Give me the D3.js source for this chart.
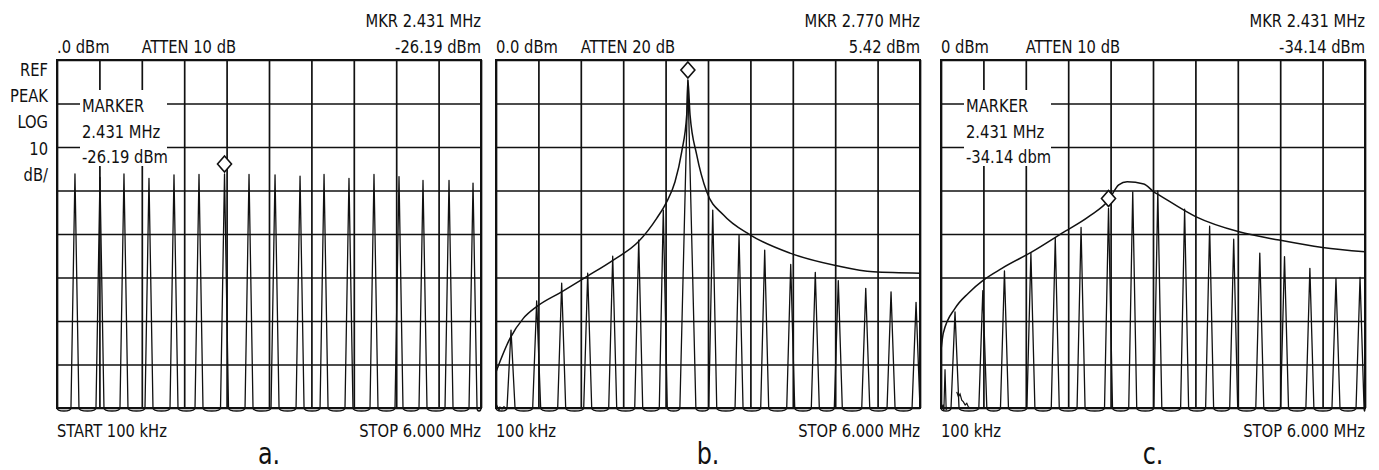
<!DOCTYPE html>
<html lang="en">
<head>
<meta charset="UTF-8">
<title>Spectrum analyzer sweeps a, b, c</title>
<script src="https://cdn.jsdelivr.net/npm/d3@7"></script>
<style>
  body { margin: 0; background: #fff; }
  svg text {
    font-family: "Liberation Sans Narrow", "DejaVu Sans Condensed", "Roboto Condensed", sans-serif;
    font-stretch: condensed;
    fill: #111;
  }
</style>
</head>
<body>
<svg id="chart" width="1379" height="470"></svg>
<script>
// sweep span (MHz) and screen graticule
const spanMHz = [0.1, 6.0];
const gridCols = 10, gridRows = 8, dbPerDiv = 10;
const sideLabels = ["REF", "PEAK", "LOG", "10", "dB/"];

// a. comb lines (MHz, dBm)
const freqA  = [0.350, 0.698, 1.032, 1.380, 1.728, 2.076, 2.431, 2.772, 3.134, 3.482, 3.816, 4.163, 4.511, 4.859, 5.193, 5.555, 5.889];
const levelA = [-26.2, -27.0, -26.2, -27.2, -26.4, -26.3, -26.19, -26.3, -26.4, -26.7, -26.3, -27.2, -26.3, -26.8, -27.7, -27.7, -28.3];

// b. comb lines, ref shown 10 dB higher (ATTEN 20 dB)
const freqB  = [0.309, 0.666, 1.014, 1.376, 1.724, 2.086, 2.428, 2.770, 3.116, 3.482, 3.839, 4.201, 4.543, 4.863, 5.245, 5.597, 5.945];
const levelB = [-52.1, -45.4, -41.3, -39.0, -35.1, -31.4, -24.5, 5.42, -24.5, -30.2, -33.7, -37.0, -38.8, -40.7, -42.5, -43.3, -45.7];
const envFreqB  = [0.10, 0.295, 0.48, 0.666, 1.014, 1.362, 1.732, 2.08, 2.336, 2.475, 2.591, 2.684, 2.754, 2.77, 2.80, 2.893, 3.032, 3.263, 3.635, 4.191, 4.841, 5.35, 6.0];
const envLevelB = [-61.7, -54.0, -49.4, -46.7, -43.3, -39.8, -36.0, -31.8, -26.4, -22.6, -18.0, -11.1, -2.6, 5.4, -2.6, -11.8, -20.3, -25.6, -30.2, -34.4, -37.3, -38.7, -39.0];
const noiseB = [[0.10, -70.0], [0.114, -69.5], [0.142, -70.5], [0.156, -69.8], [0.184, -70.2], [0.211, -69.7], [0.239, -70.2], [0.267, -70.0]];

// c. comb lines
const freqC  = [0.295, 0.682, 0.983, 1.351, 1.690, 2.049, 2.431, 2.768, 3.117, 3.490, 3.838, 4.173, 4.536, 4.880, 5.233, 5.596, 5.931];
const levelC = [-57.9, -53.0, -48.5, -44.4, -41.0, -38.5, -34.14, -30.3, -30.1, -34.3, -38.2, -41.2, -44.4, -45.2, -47.9, -50.2, -50.0];
const envFreqC  = [0.10, 0.132, 0.295, 0.481, 0.69, 0.947, 1.365, 1.784, 2.155, 2.434, 2.573, 2.69, 2.922, 3.061, 3.131, 3.643, 4.247, 4.805, 5.41, 6.0];
const envLevelC = [-66.7, -62.8, -57.1, -53.6, -50.6, -47.9, -44.1, -39.8, -36.0, -32.2, -28.7, -28.0, -28.5, -30.3, -31.0, -36.0, -39.5, -41.4, -43.1, -44.1];
const noiseC1 = [[0.10, -80.0], [0.125, -79.4], [0.14, -80.6], [0.156, -71.1], [0.172, -80.4], [0.19, -79.8]];
const noiseC2 = [[0.319, -76.3], [0.342, -77.4], [0.365, -76.8], [0.389, -78.2], [0.412, -78.6], [0.436, -79.3], [0.459, -78.9], [0.482, -79.8], [0.529, -80.1]];

const panels = [
  { label: "a.", left: 57, ref: 0, freqs: freqA, levels: levelA, marker: 6,
    mkr: ["MKR 2.431 MHz", "-26.19 dBm"], refText: ".0 dBm", atten: "ATTEN 10 dB",
    start: "START 100 kHz", box: ["MARKER", "2.431 MHz", "-26.19 dBm"], noise: [] },
  { label: "b.", left: 496, ref: 10, freqs: freqB, levels: levelB, marker: 7,
    mkr: ["MKR 2.770 MHz", "5.42 dBm"], refText: "0.0 dBm", atten: "ATTEN 20 dB",
    start: "100 kHz", env: [envFreqB, envLevelB], noise: [noiseB] },
  { label: "c.", left: 941, ref: 0, freqs: freqC, levels: levelC, marker: 6,
    mkr: ["MKR 2.431 MHz", "-34.14 dBm"], refText: "0 dBm", atten: "ATTEN 10 dB",
    start: "100 kHz", box: ["MARKER", "2.431 MHz", "-34.14 dbm"], env: [envFreqC, envLevelC], noise: [noiseC1, noiseC2] }
];

const W = 424, plotTop = 60, H = 348;
const squeeze = 0.885;   // the instrument font is narrower than what we have
const svg = d3.select("#chart");

// text helper: condensed by a horizontal scale around its anchor point
function label(parent, s, tx, ty, anchor, size) {
  return parent.append("text")
    .attr("transform", `translate(${tx},${ty}) scale(${squeeze},1)`)
    .attr("text-anchor", anchor)
    .style("font-size", size || "18.5px")
    .text(s);
}

sideLabels.forEach((s, i) => label(svg, s, 48, 76 + i * 26.2, "end"));

function tracePath(x, y, p) {
  const path = d3.path();
  const floorY = y(p.ref - gridRows * dbPerDiv);
  const [x0, x1] = x.range();
  const bowl = (from, to) => {
    if (to - from < 0.5) { path.lineTo(to, floorY); return; }
    path.bezierCurveTo(from, floorY + 4, to, floorY + 4, to, floorY);
  };
  let prev = x0;
  path.moveTo(x0, floorY);
  p.freqs.forEach((f, i) => {
    const cx = x(f), hw = p.levels[i] > p.ref - 15 ? 8 : 4;
    const xl = Math.max(x0, cx - hw), xr = Math.min(x1, cx + hw);
    if (xl > prev) bowl(prev, xl);
    path.lineTo(cx, y(p.levels[i]));
    path.lineTo(xr, floorY);
    prev = xr;
  });
  if (x1 > prev) bowl(prev, x1);
  return path.toString();
}

panels.forEach(p => {
  const x = d3.scaleLinear().domain(spanMHz).range([p.left, p.left + W]);
  const y = d3.scaleLinear().domain([p.ref - gridRows * dbPerDiv, p.ref]).range([plotTop + H, plotTop]);
  const g = svg.append("g");

  const xTicks = d3.range(gridCols + 1).map(i => spanMHz[0] + i * (spanMHz[1] - spanMHz[0]) / gridCols);
  const yTicks = d3.range(gridRows + 1).map(i => p.ref - i * dbPerDiv);

  const gx = g.append("g")
    .attr("transform", `translate(0,${plotTop + H})`)
    .call(d3.axisBottom(x).tickValues(xTicks).tickSize(-H).tickFormat(""));
  const gy = g.append("g")
    .attr("transform", `translate(${p.left},0)`)
    .call(d3.axisLeft(y).tickValues(yTicks).tickSize(-W).tickFormat(""));
  [gx, gy].forEach(a => {
    a.select(".domain").remove();
    a.selectAll("line").attr("stroke", "#111").attr("stroke-width", 1.7);
  });

  g.append("rect")
    .attr("x", p.left).attr("y", plotTop).attr("width", W).attr("height", H)
    .attr("fill", "none").attr("stroke", "#111").attr("stroke-width", 2);

  // marker readout box knocks out the graticule
  if (p.box) {
    g.append("rect")
      .attr("x", p.left + 23).attr("y", 90).attr("width", 87).attr("height", 76)
      .attr("fill", "#fff");
    p.box.forEach((s, i) => label(g, s, p.left + 25, 112 + i * 25.5, "start"));
  }

  // header / footer annotations
  label(g, p.mkr[0], p.left + W, 27, "end");
  label(g, p.mkr[1], p.left + W, 53, "end");
  label(g, p.refText, p.left, 53, "start");
  label(g, p.atten, x(xTicks[2]), 53, "start");
  label(g, p.start, p.left, 437, "start");
  label(g, "STOP 6.000 MHz", p.left + W, 437, "end");
  label(g, p.label, p.left + W / 2, 464, "middle", "30px");

  // envelope curve
  if (p.env) {
    const pts = p.env[0].map((f, i) => [f, p.env[1][i]]);
    g.append("path")
      .attr("d", d3.line().x(d => x(d[0])).y(d => y(d[1])).curve(d3.curveMonotoneX)(pts))
      .attr("fill", "none").attr("stroke", "#111").attr("stroke-width", 1.5);
  }

  // comb trace
  g.append("path")
    .attr("d", tracePath(x, y, p))
    .attr("fill", "none").attr("stroke", "#111").attr("stroke-width", 1.3)
    .attr("stroke-linejoin", "round");

  p.noise.forEach(n => {
    g.append("path")
      .attr("d", d3.line().x(d => x(d[0])).y(d => y(d[1]))(n))
      .attr("fill", "none").attr("stroke", "#111").attr("stroke-width", 1.2);
  });

  // marker diamond above the marked line
  const mx = x(p.freqs[p.marker]), my = y(p.levels[p.marker]) - 10;
  const dp = d3.path();
  dp.moveTo(mx, my - 8); dp.lineTo(mx + 7, my); dp.lineTo(mx, my + 8); dp.lineTo(mx - 7, my); dp.closePath();
  g.append("path").attr("d", dp.toString())
    .attr("fill", "#fff").attr("stroke", "#111").attr("stroke-width", 1.6);
});
</script>
</body>
</html>
